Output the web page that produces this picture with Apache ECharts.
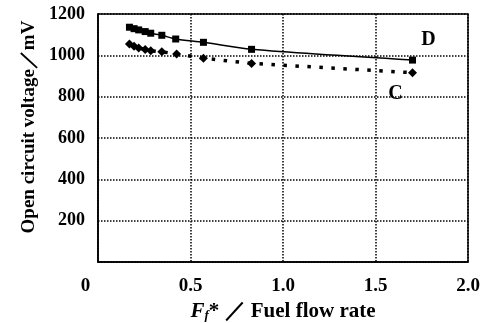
<!DOCTYPE html>
<html>
<head>
<meta charset="utf-8">
<script src="https://cdn.jsdelivr.net/npm/echarts@6/dist/echarts.min.js"></script>
<style>
  html, body { margin: 0; padding: 0; background: #fff; }
  #chart { width: 484px; height: 323px; }
</style>
</head>
<body>
<div id="chart"></div>
<script>
// fuel flow rate ratio (x) and open circuit voltage in mV (y)
const flowD = [0.17, 0.195, 0.22, 0.255, 0.285, 0.345, 0.42, 0.57, 0.83, 1.70];
const voltD = [1136, 1129, 1123, 1115, 1107, 1097, 1079, 1063, 1029, 977];
const flowC = [0.17, 0.195, 0.22, 0.255, 0.285, 0.345, 0.425, 0.57, 0.83, 1.70];
const voltC = [1055, 1044, 1036, 1028, 1022, 1017, 1007, 986, 961, 916];
const seriesNames = ['D', 'C'];
const xTicks = [0, 0.5, 1.0, 1.5, 2.0];
const yTicks = [0, 200, 400, 600, 800, 1000, 1200];

const serif = '"Liberation Serif", "Times New Roman", serif';

// attach the curve name to the last point
const toData = (xs, ys, name, offset) =>
  xs.map((x, i) => {
    if (i < xs.length - 1) return [x, ys[i]];
    return {
      value: [x, ys[i]],
      label: {
        show: true,
        position: 'inside',
        formatter: name,
        offset: offset,
        fontFamily: serif,
        fontWeight: 'bold',
        fontSize: 20,
        color: '#000'
      }
    };
  });

const chart = echarts.init(document.getElementById('chart'));

chart.setOption({
  animation: false,
  grid: {
    left: 98,
    right: 16,
    top: 14,
    bottom: 61,
    outerBoundsMode: 'none',
    show: true,
    borderColor: '#000',
    borderWidth: 1.5
  },
  xAxis: {
    type: 'value',
    min: xTicks[0],
    max: xTicks[xTicks.length - 1],
    interval: 0.5,
    axisLine: { lineStyle: { color: '#000', width: 1.5 } },
    axisTick: { show: false },
    splitLine: {
      show: true,
      lineStyle: { color: '#000', width: 1.5, type: [1.5, 1.5] }
    },
    axisLabel: {
      color: '#000',
      fontFamily: serif,
      fontWeight: 'bold',
      fontSize: 19,
      margin: 15,
      formatter: v => (v === 0 ? '{z|0}' : v.toFixed(1)),
      rich: {
        z: { fontFamily: serif, fontWeight: 'bold', fontSize: 19, color: '#000', padding: [0, 25, 0, 0] }
      }
    },
    name: '{i|F}{sub|f}{b|* ／ Fuel flow rate}',
    nameLocation: 'middle',
    nameGap: 38,
    nameTextStyle: {
      rich: {
        i: { fontFamily: serif, fontStyle: 'italic', fontWeight: 'bold', fontSize: 21, color: '#000' },
        sub: { fontFamily: serif, fontStyle: 'italic', fontWeight: 'bold', fontSize: 13, color: '#000', padding: [8, 0, 0, 0] },
        b: { fontFamily: serif, fontWeight: 'bold', fontSize: 21, color: '#000' }
      }
    }
  },
  yAxis: {
    type: 'value',
    min: yTicks[0],
    max: yTicks[yTicks.length - 1],
    interval: 200,
    axisLine: { show: true, lineStyle: { color: '#000', width: 1.5 } },
    axisTick: { show: false },
    splitLine: {
      show: true,
      lineStyle: { color: '#000', width: 1.5, type: [1.5, 1.5] }
    },
    axisLabel: {
      color: '#000',
      fontFamily: serif,
      fontWeight: 'bold',
      fontSize: 18,
      margin: 13,
      showMinLabel: false,
      padding: [12, 0, 0, 0],
      formatter: v => String(v)
    },
    name: 'Open circuit voltage／mV',
    nameLocation: 'middle',
    nameGap: 58,
    nameTextStyle: {
      color: '#000',
      fontFamily: serif,
      fontWeight: 'bold',
      fontSize: 19,
      padding: [0, 0, 0, 22]
    }
  },
  series: [
    {
      name: seriesNames[0],
      type: 'line',
      smooth: 0.3,
      data: toData(flowD, voltD, seriesNames[0], [16, -20]),
      symbol: 'rect',
      symbolSize: 7,
      itemStyle: { color: '#000' },
      lineStyle: { color: '#000', width: 1.5 },
      z: 3
    },
    {
      name: seriesNames[1],
      type: 'line',
      data: toData(flowC, voltC, seriesNames[1], [-17, 21]),
      symbol: 'diamond',
      symbolSize: 9,
      itemStyle: { color: '#000' },
      lineStyle: { color: '#000', width: 3.5, type: [3.5, 8.5] },
      z: 3
    }
  ]
});
</script>
</body>
</html>
